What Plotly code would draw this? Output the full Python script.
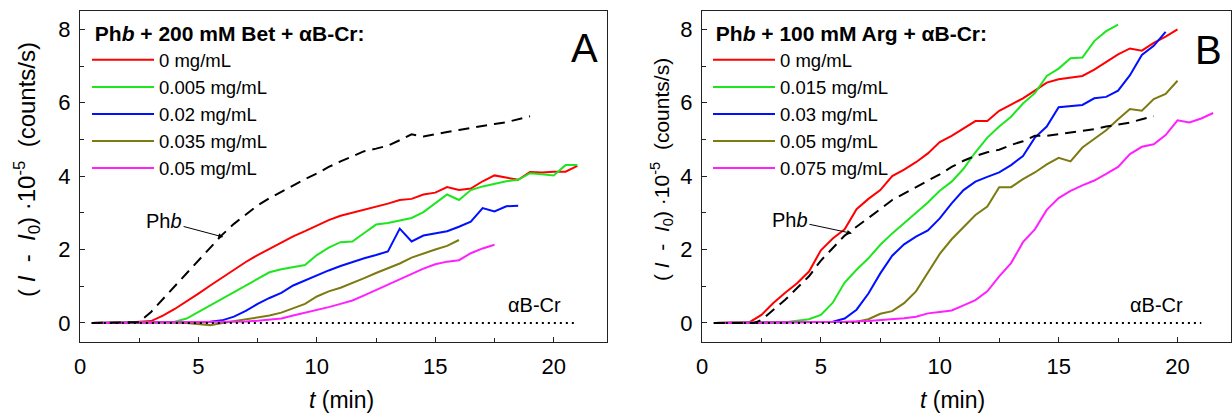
import plotly.graph_objects as go

# ---------------- Panel A: Phb + 200 mM Bet + aB-Cr ----------------
a_red_t = [0.5, 1, 2, 3, 3.5, 4, 4.5, 5, 5.5, 6, 6.5, 7, 7.5, 8, 8.5, 9, 9.5, 10, 10.5, 11, 11.5, 12, 12.5, 13, 13.5, 14, 14.5, 15, 15.5, 16, 16.5, 17, 17.5, 18, 18.5, 19, 19.5, 20, 20.5, 21]
a_red_v = [0, 0, 0.01, 0.05, 0.2, 0.38, 0.58, 0.8, 1.02, 1.24, 1.46, 1.66, 1.85, 2.02, 2.2, 2.36, 2.5, 2.65, 2.8, 2.92, 3.0, 3.1, 3.18, 3.25, 3.35, 3.38, 3.5, 3.55, 3.7, 3.62, 3.66, 3.86, 4.02, 3.97, 3.9, 4.11, 4.1, 4.12, 4.12, 4.28]

a_green_t = [0.5, 2, 3, 4, 4.5, 5, 5.5, 6, 6.5, 7, 7.5, 8, 8.5, 9, 9.5, 10, 10.5, 11, 11.5, 12, 12.5, 13, 13.5, 14, 14.5, 15, 15.5, 16, 16.5, 17, 17.5, 18, 18.5, 19, 19.5, 20, 20.5, 21]
a_green_v = [0, 0.02, 0.02, 0.03, 0.12, 0.3, 0.48, 0.68, 0.85, 1.02, 1.2, 1.38, 1.46, 1.53, 1.58, 1.85, 2.05, 2.2, 2.22, 2.45, 2.68, 2.72, 2.78, 2.86, 3.02, 3.25, 3.5, 3.35, 3.62, 3.72, 3.8, 3.86, 3.9, 4.08, 4.05, 4.02, 4.3, 4.3]

a_blue_t = [0.5, 3, 5, 5.5, 6, 6.5, 7, 7.5, 8, 8.5, 9, 9.5, 10, 10.5, 11, 11.5, 12, 12.5, 13, 13.5, 14, 14.5, 15, 15.5, 16, 16.5, 17, 17.5, 18, 18.5]
a_blue_v = [0, 0.01, 0.02, 0.03, 0.07, 0.17, 0.33, 0.52, 0.68, 0.82, 1.02, 1.16, 1.3, 1.43, 1.55, 1.66, 1.76, 1.85, 1.95, 2.57, 2.22, 2.38, 2.44, 2.5, 2.62, 2.76, 3.13, 3.04, 3.18, 3.19]

a_olive_t = [0.5, 3, 4.5, 5, 5.5, 6, 6.5, 7, 7.5, 8, 8.5, 9, 9.5, 10, 10.5, 11, 11.5, 12, 12.5, 13, 13.5, 14, 14.5, 15, 15.5, 16]
a_olive_v = [0, 0.02, 0.0, -0.03, -0.06, 0.0, 0.05, 0.1, 0.15, 0.2, 0.28, 0.4, 0.52, 0.72, 0.86, 0.96, 1.08, 1.22, 1.36, 1.48, 1.62, 1.78, 1.9, 2.0, 2.1, 2.26]

a_mag_t = [0.5, 3, 5, 6, 7, 7.5, 8, 8.5, 9, 9.5, 10, 10.5, 11, 11.5, 12, 12.5, 13, 13.5, 14, 14.5, 15, 15.5, 16, 16.5, 17, 17.5]
a_mag_v = [0, 0.01, 0.02, 0.02, 0.04, 0.06, 0.08, 0.12, 0.2, 0.27, 0.34, 0.43, 0.52, 0.61, 0.75, 0.9, 1.04, 1.18, 1.33, 1.48, 1.6, 1.67, 1.71, 1.9, 2.03, 2.13]

a_phb_t = [0.5, 1.5, 2.5, 3, 3.5, 4, 4.5, 5, 5.5, 6, 6.5, 7, 7.5, 8, 8.5, 9, 9.5, 10, 10.5, 11, 11.5, 12, 12.5, 13, 13.5, 14, 14.5, 15, 15.5, 16, 16.5, 17, 17.5, 18, 18.5, 19]
a_phb_v = [0, 0, 0.02, 0.3, 0.65, 1.0, 1.36, 1.72, 2.07, 2.4, 2.7, 2.95, 3.2, 3.4, 3.58, 3.75, 3.92, 4.07, 4.25, 4.4, 4.55, 4.68, 4.75, 4.83, 4.98, 5.14, 5.08, 5.13, 5.2, 5.26, 5.32, 5.36, 5.42, 5.47, 5.55, 5.63]

a_cr_t = [0.5, 21.0]
a_cr_v = [0, 0]

a_labels = ["0 mg/mL", "0.005 mg/mL", "0.02 mg/mL", "0.035 mg/mL", "0.05 mg/mL"]

# ---------------- Panel B: Phb + 100 mM Arg + aB-Cr ----------------
b_red_t = [0.5, 1, 1.5, 2.0, 2.5, 3, 3.5, 4, 4.5, 5, 5.5, 6, 6.5, 7, 7.5, 8, 8.5, 9, 9.5, 10, 10.5, 11, 11.5, 12, 12.5, 13, 13.5, 14, 14.5, 15, 15.5, 16, 16.5, 17, 17.5, 18, 18.5, 19, 19.5, 20]
b_red_v = [0, 0, 0, 0.02, 0.22, 0.54, 0.82, 1.08, 1.4, 1.98, 2.3, 2.55, 3.1, 3.38, 3.62, 4.0, 4.18, 4.38, 4.62, 4.93, 5.1, 5.3, 5.5, 5.5, 5.78, 5.95, 6.12, 6.33, 6.55, 6.64, 6.68, 6.73, 6.9, 7.1, 7.32, 7.48, 7.42, 7.63, 7.8, 8.0]

b_green_t = [0.5, 2, 3.5, 4, 4.5, 5, 5.5, 6, 6.5, 7, 7.5, 8, 8.5, 9, 9.5, 10, 10.5, 11, 11.5, 12, 12.5, 13, 13.5, 14, 14.5, 15, 15.5, 16, 16.5, 17, 17.5]
b_green_v = [0, 0.01, 0.02, 0.06, 0.1, 0.22, 0.55, 1.1, 1.45, 1.76, 2.13, 2.44, 2.72, 3.0, 3.28, 3.6, 3.85, 4.2, 4.65, 5.05, 5.35, 5.62, 5.98, 6.26, 6.73, 6.93, 7.21, 7.23, 7.68, 7.95, 8.13]

b_blue_t = [0.5, 3, 5.5, 6, 6.5, 7, 7.5, 8, 8.5, 9, 9.5, 10, 10.5, 11, 11.5, 12, 12.5, 13, 13.5, 14, 14.5, 15, 15.5, 16, 16.5, 17, 17.5, 18, 18.5, 19, 19.5]
b_blue_v = [0, 0.01, 0.03, 0.12, 0.36, 0.8, 1.35, 1.83, 2.14, 2.35, 2.52, 2.85, 3.26, 3.62, 3.85, 3.98, 4.1, 4.3, 4.55, 5.05, 5.35, 5.88, 5.9, 5.94, 6.12, 6.16, 6.33, 6.75, 7.3, 7.55, 7.93]

b_olive_t = [0.5, 3, 5, 6.5, 7, 7.5, 8, 8.5, 9, 9.5, 10, 10.5, 11, 11.5, 12, 12.5, 13, 13.5, 14, 14.5, 15, 15.5, 16, 16.5, 17, 17.5, 18, 18.5, 19, 19.5, 20]
b_olive_v = [0, 0.01, 0.02, 0.03, 0.1, 0.25, 0.32, 0.54, 0.86, 1.36, 1.88, 2.28, 2.62, 2.94, 3.17, 3.7, 3.7, 3.92, 4.1, 4.32, 4.5, 4.4, 4.78, 5.02, 5.25, 5.55, 5.83, 5.78, 6.1, 6.24, 6.6]

b_mag_t = [0.5, 3, 5, 6, 7, 7.5, 8, 8.5, 9, 9.5, 10, 10.5, 11, 11.5, 12, 12.5, 13, 13.5, 14, 14.5, 15, 15.5, 16, 16.5, 17, 17.5, 18, 18.5, 19, 19.5, 20, 20.5, 21, 21.5]
b_mag_v = [0, 0.01, 0.02, 0.03, 0.05, 0.07, 0.1, 0.13, 0.17, 0.26, 0.3, 0.34, 0.48, 0.62, 0.86, 1.27, 1.63, 2.2, 2.55, 3.08, 3.4, 3.6, 3.75, 3.88, 4.06, 4.25, 4.6, 4.8, 4.87, 5.12, 5.52, 5.46, 5.57, 5.72]

b_phb_t = [0.5, 1.5, 2.2, 2.5, 3, 3.5, 4, 4.5, 5, 5.5, 6, 6.5, 7, 7.5, 8, 8.5, 9, 9.5, 10, 10.5, 11, 11.5, 12, 12.5, 13, 13.5, 14, 14.5, 15, 15.5, 16, 16.5, 17, 17.5, 18, 18.5, 19]
b_phb_v = [0, 0, 0.0, 0.08, 0.35, 0.63, 0.95, 1.27, 1.7, 2.05, 2.38, 2.62, 2.85, 3.1, 3.35, 3.52, 3.7, 3.88, 4.05, 4.25, 4.42, 4.55, 4.65, 4.72, 4.85, 4.95, 5.1, 5.1, 5.14, 5.18, 5.24, 5.28, 5.35, 5.4, 5.46, 5.55, 5.63]

b_cr_t = [0.5, 21.0]
b_cr_v = [0, 0]

b_labels = ["0 mg/mL", "0.015 mg/mL", "0.03 mg/mL", "0.05 mg/mL", "0.075 mg/mL"]

colors = ["#ff0000", "#1ee61e", "#0010ff", "#7d7a12", "#ff20ff"]
FONT = "Liberation Sans, Arial, sans-serif"
W, H = 1232, 418
NB = "\u00a0"

fig = go.Figure()

def add_panel(xa, ya, leg, series, labels, phb, cr):
    for (t, v), lab, c in zip(series, labels, colors):
        fig.add_trace(go.Scatter(x=t, y=v, mode="lines", name=lab,
                                 line=dict(color=c, width=2),
                                 xaxis=xa, yaxis=ya, legend=leg, showlegend=True))
    fig.add_trace(go.Scatter(x=phb[0], y=phb[1], mode="lines", showlegend=False,
                             line=dict(color="black", width=2, dash="11px,7px"),
                             xaxis=xa, yaxis=ya))
    fig.add_trace(go.Scatter(x=cr[0], y=cr[1], mode="lines", showlegend=False,
                             line=dict(color="black", width=2, dash="2px,4px"),
                             xaxis=xa, yaxis=ya))

add_panel("x", "y", "legend",
          [(a_red_t, a_red_v), (a_green_t, a_green_v), (a_blue_t, a_blue_v),
           (a_olive_t, a_olive_v), (a_mag_t, a_mag_v)],
          a_labels, (a_phb_t, a_phb_v), (a_cr_t, a_cr_v))
add_panel("x2", "y2", "legend2",
          [(b_red_t, b_red_v), (b_green_t, b_green_v), (b_blue_t, b_blue_v),
           (b_olive_t, b_olive_v), (b_mag_t, b_mag_v)],
          b_labels, (b_phb_t, b_phb_v), (b_cr_t, b_cr_v))

ydom = [1 - 342 / H, 1 - 11 / H]
xdomA = [80 / W, 607 / W]
xdomB = [702 / W, 1231 / W]

def xax(dom, anchor):
    return dict(domain=dom, anchor=anchor, range=[0, 22.25], showline=True, mirror=True,
                linecolor="#222", linewidth=1.4, ticks="inside", ticklen=5, tickwidth=1.2,
                tickcolor="#222", dtick=5, tick0=0, showgrid=False, zeroline=False,
                automargin=False,
                tickfont=dict(family=FONT, size=22, color="black"),
                minor=dict(ticks="inside", ticklen=4, dtick=2.5, tickcolor="#222", showgrid=False),
                ticklabelstandoff=4)

def yax(dom, anchor):
    return dict(domain=dom, anchor=anchor, range=[-0.52, 8.5], showline=True, mirror=True,
                linecolor="#222", linewidth=1.4, ticks="inside", ticklen=5, tickwidth=1.2,
                tickcolor="#222", dtick=2, tick0=0, showgrid=False, zeroline=False,
                automargin=False,
                tickfont=dict(family=FONT, size=22, color="black"),
                minor=dict(ticks="inside", ticklen=4, dtick=1, tickcolor="#222", showgrid=False),
                ticklabelstandoff=4)

legfont = dict(family=FONT, size=18.5, color="black")
fig.update_layout(
    width=W, height=H, margin=dict(l=0, r=0, t=0, b=0, autoexpand=False),
    paper_bgcolor="white", plot_bgcolor="white",
    xaxis=xax(xdomA, "y"), yaxis=yax(ydom, "x"),
    xaxis2=xax(xdomB, "y2"), yaxis2=yax(ydom, "x2"),
    legend=dict(x=87 / W, y=1 - 14 / H, xanchor="left", yanchor="top",
                bgcolor="rgba(0,0,0,0)", font=legfont, itemwidth=62,
                title=dict(text="<b>" + NB + "Ph<i>b</i> + 200 mM Bet + \u03b1B-Cr:</b>",
                           font=dict(family=FONT, size=21, color="black"))),
    legend2=dict(x=708 / W, y=1 - 14 / H, xanchor="left", yanchor="top",
                 bgcolor="rgba(0,0,0,0)", font=legfont, itemwidth=62,
                 title=dict(text="<b>" + NB + "Ph<i>b</i> + 100 mM Arg + \u03b1B-Cr:</b>",
                            font=dict(family=FONT, size=21, color="black"))),
    showlegend=True,
)

ytitle = ("(" + NB + "<i>I</i>" + NB * 2 + "-" + NB * 2 + "<i>I</i><sub>0</sub>)" + NB
          + "\u00b710<sup>-5</sup>" + NB * 2 + "(counts/s)")

ann = []
# y-axis titles
ann.append(dict(text=ytitle, textangle=-90, xref="paper", yref="paper", x=27 / W, y=1 - 170 / H,
                xanchor="center", yanchor="middle", showarrow=False,
                font=dict(family=FONT, size=24, color="black")))
ann.append(dict(text=ytitle, textangle=-90, xref="paper", yref="paper", x=661 / W, y=1 - 170 / H,
                xanchor="center", yanchor="middle", showarrow=False,
                font=dict(family=FONT, size=21, color="black")))
# x-axis titles
ann.append(dict(text="<i>t</i> (min)", xref="paper", yref="paper", x=341 / W, y=1 - 400 / H,
                xanchor="center", yanchor="middle", showarrow=False,
                font=dict(family=FONT, size=23, color="black")))
ann.append(dict(text="<i>t</i> (min)", xref="paper", yref="paper", x=952 / W, y=1 - 400 / H,
                xanchor="center", yanchor="middle", showarrow=False,
                font=dict(family=FONT, size=23, color="black")))
# panel letters
ann.append(dict(text="A", xref="x", yref="y", x=21.95, y=7.5, xanchor="right", yanchor="middle",
                showarrow=False, font=dict(family=FONT, size=40, color="black")))
ann.append(dict(text="B", xref="x2", yref="y2", x=21.95, y=7.45, xanchor="right", yanchor="middle",
                showarrow=False, font=dict(family=FONT, size=40, color="black")))
# alpha B-Cr labels
ann.append(dict(text="\u03b1B-Cr", xref="x", yref="y", x=19.2, y=0.5, xanchor="center", yanchor="middle",
                showarrow=False, font=dict(family=FONT, size=20, color="black")))
ann.append(dict(text="\u03b1B-Cr", xref="x2", yref="y2", x=19.1, y=0.5, xanchor="center", yanchor="middle",
                showarrow=False, font=dict(family=FONT, size=20, color="black")))
# Phb labels with arrows pointing at the dashed curve
ann.append(dict(text="Ph<i>b</i>", xref="x", yref="y", axref="x", ayref="y",
                x=6.05, y=2.34, ax=3.55, ay=2.77,
                showarrow=True, arrowhead=2, arrowsize=1, arrowwidth=1, arrowcolor="black",
                font=dict(family=FONT, size=20, color="black")))
ann.append(dict(text="Ph<i>b</i>", xref="x2", yref="y2", axref="x2", ayref="y2",
                x=6.31, y=2.44, ax=3.7, ay=2.8,
                showarrow=True, arrowhead=2, arrowsize=1, arrowwidth=1, arrowcolor="black",
                font=dict(family=FONT, size=20, color="black")))
fig.update_layout(annotations=ann)

fig.write_html("out.html", config={"displayModeBar": False},
               post_script="document.body.style.margin='0';document.body.style.padding='0';"
                           "document.body.style.overflow='hidden';")
